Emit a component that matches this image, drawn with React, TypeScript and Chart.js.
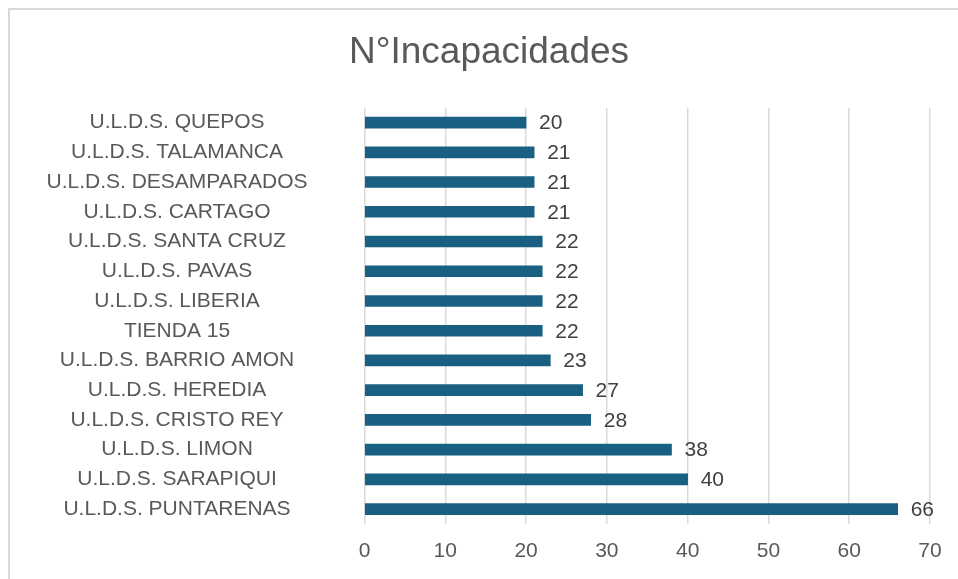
import React, { useEffect, useRef } from "react";
import { Chart, registerables } from "chart.js";

Chart.register(...registerables);

const titleText = "N°Incapacidades";
const categories = [
  "U.L.D.S. QUEPOS",
  "U.L.D.S. TALAMANCA",
  "U.L.D.S. DESAMPARADOS",
  "U.L.D.S. CARTAGO",
  "U.L.D.S. SANTA CRUZ",
  "U.L.D.S. PAVAS",
  "U.L.D.S. LIBERIA",
  "TIENDA 15",
  "U.L.D.S. BARRIO AMON",
  "U.L.D.S. HEREDIA",
  "U.L.D.S. CRISTO REY",
  "U.L.D.S. LIMON",
  "U.L.D.S. SARAPIQUI",
  "U.L.D.S. PUNTARENAS",
];
const values = [20, 21, 21, 21, 22, 22, 22, 22, 23, 27, 28, 38, 40, 66];
const xMin = 0;
const xMax = 70;
const xStep = 10;

const FONT = "Liberation Sans";
const LABEL_SIZE = 21;
const TEXT_COLOR = "#595959";
const VALUE_COLOR = "#404040";
const BAR_COLOR = "#185f81";

const CANVAS_W = 948;
const CANVAS_H = 569;
const LEFT_PAD = 10;
const PLOT_LEFT = 354.5;
const PLOT_RIGHT = 920;
const PLOT_BOTTOM = 514;
const LABEL_CENTER = 167;

function measureWidest(): number {
  const c = document.createElement("canvas");
  const ctx = c.getContext("2d");
  if (!ctx) return 263;
  ctx.font = `${LABEL_SIZE}px "${FONT}"`;
  let w = 0;
  for (const s of categories) w = Math.max(w, ctx.measureText(s).width);
  return w;
}

const valueLabels = {
  id: "valueLabels",
  afterDatasetsDraw(chart: any) {
    const ctx = chart.ctx;
    const meta = chart.getDatasetMeta(0);
    ctx.save();
    ctx.font = `${LABEL_SIZE}px "${FONT}"`;
    ctx.fillStyle = VALUE_COLOR;
    ctx.textAlign = "left";
    ctx.textBaseline = "middle";
    meta.data.forEach((bar: any, i: number) => {
      ctx.fillText(String(values[i]), bar.x + 13, bar.y + 1);
    });
    ctx.restore();
  },
};

export default function App() {
  const ref = useRef<HTMLCanvasElement | null>(null);

  useEffect(() => {
    if (!ref.current) return;
    const widest = measureWidest();
    const yPad = PLOT_LEFT - LABEL_CENTER - widest / 2;
    const chart = new Chart(ref.current, {
      type: "bar",
      data: {
        labels: categories,
        datasets: [
          {
            data: values,
            backgroundColor: BAR_COLOR,
            borderWidth: 0,
            barThickness: 11,
            yAxisID: "y",
          },
        ],
      },
      options: {
        indexAxis: "y",
        animation: false,
        responsive: false,
        maintainAspectRatio: false,
        layout: { padding: { left: LEFT_PAD, right: 0, top: 0, bottom: 0 } },
        plugins: {
          legend: { display: false },
          tooltip: { enabled: false },
          title: {
            display: true,
            text: titleText,
            color: TEXT_COLOR,
            font: { family: FONT, size: 37, weight: "normal", lineHeight: 1.2 },
            padding: { top: 20.5, bottom: 32.8 },
          },
        },
        scales: {
          x: {
            min: xMin,
            max: xMax,
            grid: { color: "#d9d9d9", lineWidth: 1.5, drawTicks: false },
            border: { display: false },
            ticks: {
              stepSize: xStep,
              color: TEXT_COLOR,
              padding: 14.4,
              font: { family: FONT, size: LABEL_SIZE, lineHeight: 1.2 },
            },
            afterFit: (s: any) => {
              s.height = CANVAS_H - PLOT_BOTTOM;
              s.paddingLeft = 0;
              s.paddingRight = 0;
            },
          },
          y: {
            grid: { display: false, drawTicks: false },
            border: { display: false },
            ticks: {
              color: TEXT_COLOR,
              crossAlign: "center",
              padding: yPad,
              autoSkip: false,
              font: { family: FONT, size: LABEL_SIZE },
            },
            afterFit: (s: any) => {
              s.width = PLOT_LEFT - LEFT_PAD;
              s.paddingTop = 0;
              s.paddingBottom = 0;
            },
          },
          yRight: {
            type: "category",
            position: "right",
            labels: categories,
            grid: { display: false, drawTicks: false },
            border: { display: false },
            ticks: { display: false },
            afterFit: (s: any) => {
              s.width = CANVAS_W - PLOT_RIGHT;
              s.paddingTop = 0;
              s.paddingBottom = 0;
            },
          },
        },
      },
      plugins: [valueLabels],
    });
    return () => chart.destroy();
  }, []);

  return (
    <div
      style={{
        position: "fixed",
        left: 8,
        top: 8,
        width: 950,
        height: 571,
        boxSizing: "border-box",
        borderLeft: "2px solid #d9d9d9",
        borderTop: "2px solid #d9d9d9",
        background: "#fff",
      }}
    >
      <canvas
        ref={ref}
        width={CANVAS_W}
        height={CANVAS_H}
        style={{ display: "block", width: CANVAS_W, height: CANVAS_H }}
      />
    </div>
  );
}
